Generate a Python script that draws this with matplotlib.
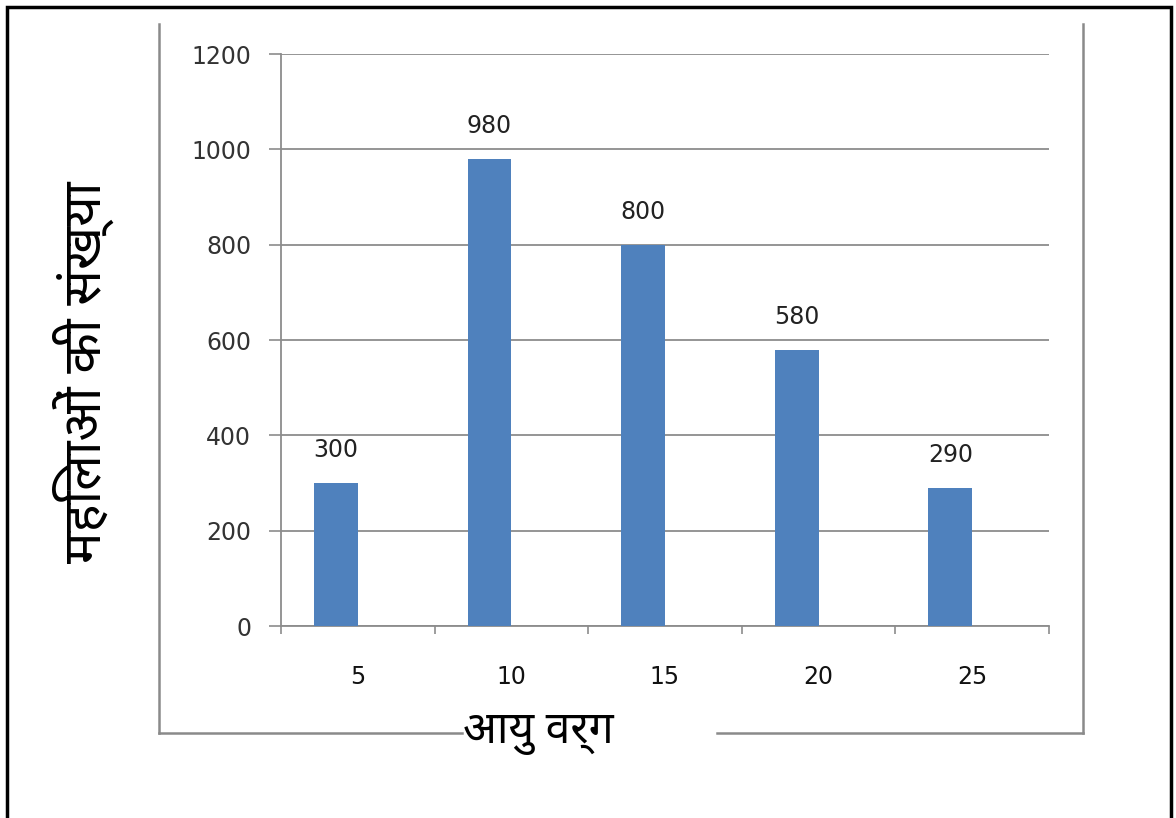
import matplotlib
matplotlib.use("Agg")
import matplotlib.pyplot as plt
from matplotlib.lines import Line2D
from matplotlib.patches import Rectangle

# data
age_groups = ["5", "10", "15", "20", "25"]
women_count = [300, 980, 800, 580, 290]
y_ticks = [0, 200, 400, 600, 800, 1000, 1200]

x_label = "आयु वर्ग"
y_label = "महिलाओं की संख्या"

bar_color = "#4F81BD"
grid_color = "#8C8C8C"
hindi_fonts = ["Noto Sans Devanagari", "Lohit Devanagari", "FreeSans", "DejaVu Sans"]

W, H = 1176, 818
fig = plt.figure(figsize=(W / 100, H / 100), dpi=100)
ax = fig.add_axes([281 / W, 1 - 626 / H, (1049 - 281) / W, (626 - 54) / H])

# excel style clustered bar with an empty second series
width = 1 / 3.5
xs = [i - width / 2 for i in range(len(age_groups))]
bars = ax.bar(xs, women_count, width=width, color=bar_color, zorder=3)
for b, v in zip(bars, women_count):
    ax.annotate(str(v), (b.get_x() + b.get_width() / 2, v), xytext=(0, 15),
                textcoords="offset points", ha="center", va="bottom",
                fontsize=17, color="#222222")

ax.set_xlim(-0.5, len(age_groups) - 0.5)
ax.set_ylim(0, 1200)
ax.set_yticks(y_ticks)
ax.set_xticks(range(len(age_groups)))
ax.set_xticklabels(age_groups)
ax.set_xticks([i - 0.5 for i in range(len(age_groups) + 1)], minor=True)

ax.yaxis.grid(True, color=grid_color, lw=1.3, zorder=0)
ax.spines["top"].set_visible(False)
ax.spines["right"].set_visible(False)
ax.spines["left"].set_color(grid_color)
ax.spines["bottom"].set_color(grid_color)
ax.spines["left"].set_linewidth(1.3)
ax.spines["bottom"].set_linewidth(1.3)
ax.tick_params("y", direction="out", length=8.6, width=1.2, color=grid_color,
               labelsize=17, pad=13, labelcolor="#333333")
ax.tick_params("x", which="major", length=0, labelsize=17, pad=28,
               labelcolor="#111111")
ax.tick_params("x", which="minor", direction="out", length=6, width=1.2,
               color=grid_color)

# chart area frame (partly cut off) and outer border
fc = "#8A8A8A"
fig.add_artist(Line2D([159 / W, 159 / W], [1 - 24 / H, 1 - 733 / H], color=fc, lw=1.8))
fig.add_artist(Line2D([1083 / W, 1083 / W], [1 - 24 / H, 1 - 733 / H], color=fc, lw=1.8))
fig.add_artist(Line2D([159 / W, 462 / W], [1 - 733 / H, 1 - 733 / H], color=fc, lw=1.8))
fig.add_artist(Line2D([717 / W, 1083 / W], [1 - 733 / H, 1 - 733 / H], color=fc, lw=1.8))
fig.add_artist(Rectangle((7 / W, -0.05), (1171 - 7) / W, 1.05 - 7 / H, fill=False,
                         edgecolor="black", lw=2.5, transform=fig.transFigure))

fig.text(538 / W, 1 - 733 / H, x_label, ha="center", va="center", fontsize=32,
         fontweight="bold", fontstyle="italic", family=hindi_fonts)
fig.text(83 / W, 1 - 372 / H, y_label, ha="center", va="center", rotation=90,
         fontsize=38, fontweight="bold", family=hindi_fonts)

fig.savefig("out.png", dpi=100)
